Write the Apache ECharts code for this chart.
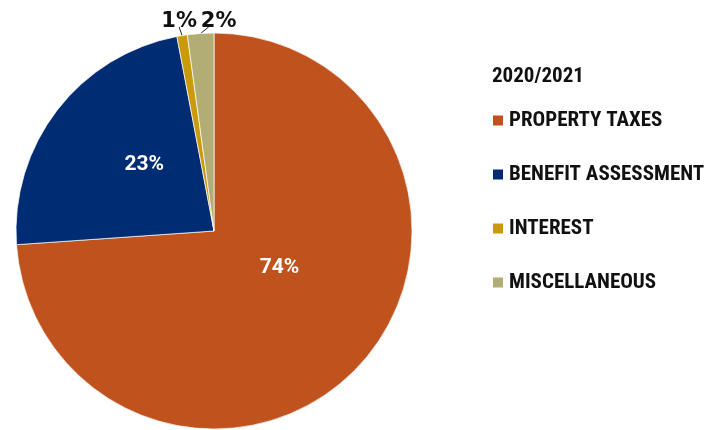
<!DOCTYPE html>
<html>
<head>
<meta charset="utf-8">
<script src="https://cdn.jsdelivr.net/npm/echarts@6/dist/echarts.min.js"></script>
<style>
  html, body { margin: 0; padding: 0; background: #ffffff; }
  #chart { width: 719px; height: 430px; }
</style>
</head>
<body>
<div id="chart"></div>
<script>
// Revenue sources, share of total (%)
const categories = ['PROPERTY TAXES', 'BENEFIT ASSESSMENT', 'INTEREST', 'MISCELLANEOUS'];
const shares = [73.9, 23.1, 0.85, 2.15];
const colors = ['#C0521E', '#002C73', '#C99A0A', '#B1AD74'];
const legendTitle = '2020/2021';

const CENTER = [214, 231];
const RADIUS = 198;

const condensed = '"Roboto Condensed", "Open Sans", sans-serif';
const insideFont = 'Roboto, sans-serif';
const outsideFont = '"DejaVu Sans", Lato, sans-serif';

// Big slices are labelled inside, nudged toward the centre; small ones above the rim.
const insideOffsets = { 0: [-9, -33], 1: [11, -4] };
const outsideShift = { 2: -3, 3: 18 };
const leaderTilt = { 2: -3, 3: 8 };

const chart = echarts.init(document.getElementById('chart'));
chart.setOption({
  animation: false,
  title: {
    text: legendTitle,
    left: 487,
    top: 61,
    textStyle: { fontFamily: condensed, fontWeight: 'bold', fontSize: 21, color: '#111' }
  },
  legend: {
    orient: 'vertical',
    left: 486,
    top: 105,
    icon: 'rect',
    itemWidth: 12,
    itemHeight: 12,
    itemGap: 33,
    textStyle: { fontFamily: condensed, fontWeight: 'bold', fontSize: 21, lineHeight: 21, color: '#111' },
    data: categories
  },
  series: [{
    type: 'pie',
    center: CENTER,
    radius: [0, RADIUS],
    startAngle: 90,
    clockwise: true,
    avoidLabelOverlap: false,
    itemStyle: { borderColor: '#ffffff', borderWidth: 0.7 },
    labelLine: { show: true, length: 6, length2: 0, lineStyle: { color: '#222', width: 1 } },
    labelLayout: function (p) {
      if (p.dataIndex < 2) return {};
      const start = p.labelLinePoints[0];
      const top = CENTER[1] - RADIUS;
      const end = [start[0] + leaderTilt[p.dataIndex], top - 6];
      return {
        x: start[0] + outsideShift[p.dataIndex],
        y: top - 1,
        align: 'center',
        verticalAlign: 'bottom',
        labelLinePoints: [start, end, end]
      };
    },
    data: categories.map(function (name, i) {
      const big = i < 2;
      return {
        name: name,
        value: shares[i],
        itemStyle: { color: colors[i] },
        label: big ? {
          position: 'inside',
          offset: insideOffsets[i],
          color: '#ffffff',
          fontFamily: insideFont,
          fontWeight: 'bold',
          fontSize: 21
        } : {
          position: 'outside',
          color: '#111111',
          fontFamily: outsideFont,
          fontWeight: 'bold',
          fontSize: 21,
          padding: 0
        },
        labelLine: { show: !big }
      };
    }),
    label: {
      formatter: function (p) { return Math.round(p.value) + '%'; }
    },
    emphasis: { disabled: true }
  }]
});
</script>
</body>
</html>
